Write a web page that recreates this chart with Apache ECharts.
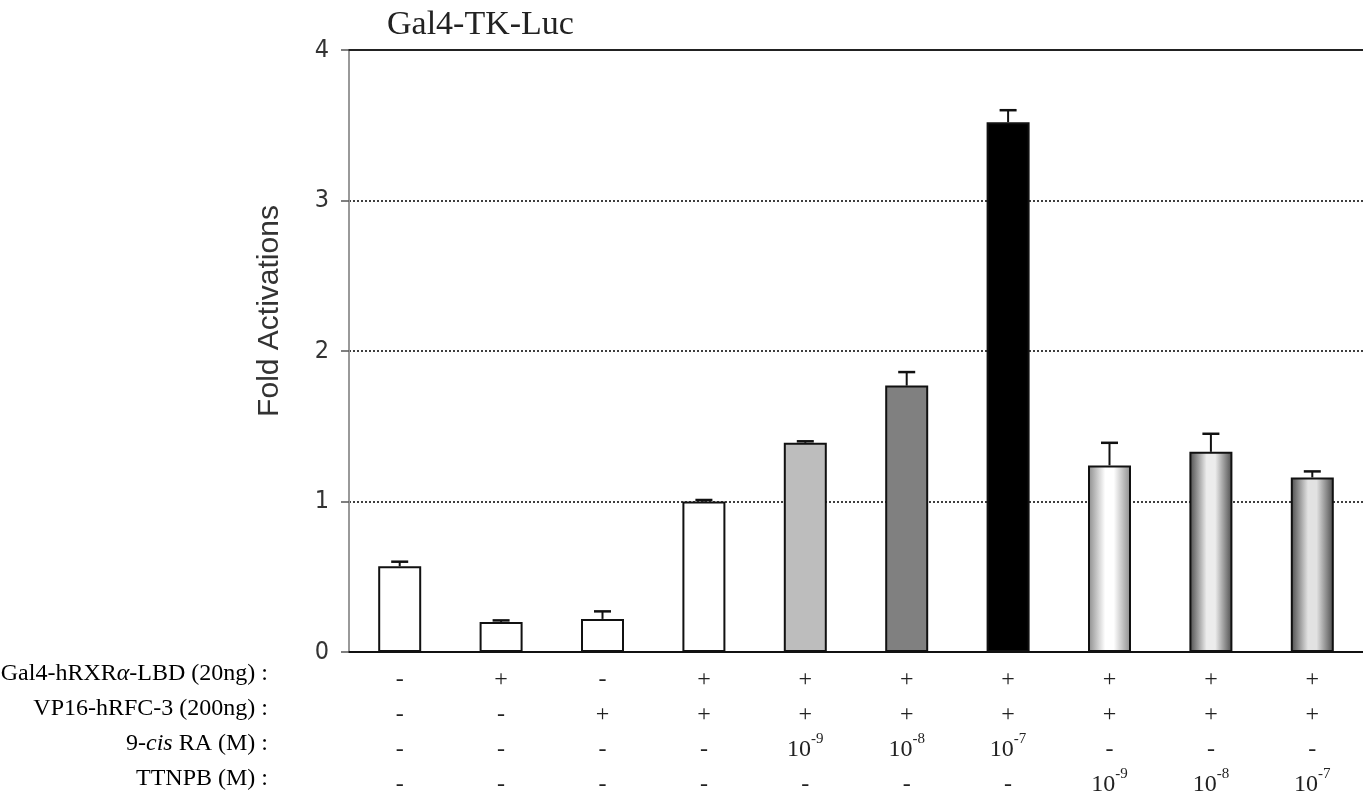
<!DOCTYPE html>
<html>
<head>
<meta charset="utf-8">
<script src="https://cdn.jsdelivr.net/npm/echarts@6/dist/echarts.min.js"></script>
<style>
html,body{margin:0;padding:0;background:#fff;}
#chart{width:1363px;height:810px;}
</style>
</head>
<body>
<div id="chart"></div>
<script>
// ---- data ----
const categories = ['1','2','3','4','5','6','7','8','9','10'];
const foldValues = [0.57, 0.20, 0.22, 1.00, 1.39, 1.77, 3.52, 1.24, 1.33, 1.16];
const errorUpper = [0.60, 0.21, 0.27, 1.01, 1.40, 1.86, 3.60, 1.39, 1.45, 1.20];
const yTicks = [0, 1, 2, 3, 4];
const rowLabels = ['Gal4-hRXRα-LBD (20ng) :', 'VP16-hRFC-3 (200ng) :', '9-cis RA (M) :', 'TTNPB (M) :'];
const rowGal4 = ['-', '+', '-', '+', '+', '+', '+', '+', '+', '+'];
const rowVP16 = ['-', '-', '+', '+', '+', '+', '+', '+', '+', '+'];
const rowCisRA = ['-', '-', '-', '-', '-9', '-8', '-7', '-', '-', '-'];
const rowTTNPB = ['-', '-', '-', '-', '-', '-', '-', '-9', '-8', '-7'];

// ---- styles ----
const serif = '"Liberation Serif", "Times New Roman", serif';
const sans = '"Liberation Sans", Arial, sans-serif';
const narrow = '"Liberation Sans Narrow", "Arial Narrow", "DejaVu Sans Condensed", sans-serif';
function grad(edge, mid) {
  return {type:'linear', x:0, y:0, x2:1, y2:0, colorStops:[
    {offset:0, color:edge},{offset:0.4, color:mid},{offset:0.6, color:mid},{offset:1, color:edge}]};
}
const barFills = ['#ffffff','#ffffff','#ffffff','#ffffff','#bdbdbd','#808080','#000000',
  grad('#8a8a8a','#ffffff'), grad('#4a4a4a','#ececec'), grad('#4a4a4a','#e2e2e2')];

function cell(v) {
  if (v === '-' ) return '{t|-}';
  if (v === '+') return '{t|+}';
  return '{t|10}{s|' + v + '}';
}

const chart = echarts.init(document.getElementById('chart'));
chart.setOption({
  animation: false,
  backgroundColor: '#fff',
  title: {
    text: 'Gal4-TK-Luc', left: 382, top: 3,
    textStyle: {fontFamily: serif, fontSize: 34, fontWeight: 'normal', color: '#222'}
  },
  grid: {left: 349, top: 50, width: 1022, height: 602},
  xAxis: [{
    type: 'category', data: categories, position: 'bottom',
    axisLine: {lineStyle: {color: '#111', width: 2}},
    axisTick: {show: false},
    axisLabel: {
      interval: 0, margin: 10,
      formatter: function (val, idx) {
        return [cell(rowGal4[idx]), cell(rowVP16[idx]), cell(rowCisRA[idx]), cell(rowTTNPB[idx])].join('\n');
      },
      rich: {
        t: {fontFamily: serif, fontSize: 24, color: '#222', lineHeight: 35},
        s: {fontFamily: serif, fontSize: 15, color: '#222', lineHeight: 20, verticalAlign: 'top'}
      }
    }
  }, {
    type: 'category', data: categories, position: 'top',
    axisLine: {lineStyle: {color: '#222', width: 2}},
    axisTick: {show: false}, axisLabel: {show: false}
  }],
  yAxis: {
    type: 'value', min: 0, max: 4, interval: 1,
    name: 'Fold Activations', nameLocation: 'middle', nameGap: 64, nameRotate: 90,
    nameTextStyle: {fontFamily: sans, fontSize: 30, color: '#333', padding: [0, 0, 0, 80]},
    axisLine: {show: true, lineStyle: {color: '#999', width: 2}},
    axisTick: {show: true, length: 8, lineStyle: {color: '#555', width: 1.5}},
    axisLabel: {fontFamily: narrow, fontSize: 25, color: '#333', margin: 20,
      formatter: function (v) { return yTicks.indexOf(v) >= 0 ? String(v) : ''; }},
    splitLine: {show: true, lineStyle: {color: '#000', type: [2, 2], width: 1.5}}
  },
  series: [{
    type: 'bar', barWidth: 43, z: 2,
    data: foldValues.map(function (v, i) {
      return {value: v, itemStyle: {color: barFills[i], borderColor: '#111', borderWidth: 2}};
    })
  }, {
    type: 'custom', z: 3,
    data: foldValues.map(function (v, i) { return [i, v, errorUpper[i]]; }),
    renderItem: function (params, api) {
      const p0 = api.coord([api.value(0), api.value(1)]);
      const p1 = api.coord([api.value(0), api.value(2)]);
      const hw = 8.5;
      return {type: 'group', children: [
        {type: 'line', shape: {x1: p0[0], y1: p0[1], x2: p1[0], y2: p1[1]}, style: {stroke: '#111', lineWidth: 2}},
        {type: 'line', shape: {x1: p1[0]-hw, y1: p1[1], x2: p1[0]+hw, y2: p1[1]}, style: {stroke: '#111', lineWidth: 2.5}}
      ]};
    }
  }],
  graphic: rowLabels.map(function (lbl, r) {
    let txt;
    if (r === 0) txt = '{n|Gal4-hRXR}{i|α}{n|-LBD (20ng) :}';
    else if (r === 2) txt = '{n|9-}{i|cis}{n| RA (M) :}';
    else txt = '{n|' + lbl + '}';
    return {
      type: 'text', right: 1363 - 268, top: 662 + r * 35,
      style: {text: txt, align: 'right',
        rich: {n: {fontFamily: serif, fontSize: 24, color: '#222', lineHeight: 35},
               i: {fontFamily: serif, fontSize: 24, fontStyle: 'italic', color: '#222', lineHeight: 35}}}
    };
  })
});
</script>
</body>
</html>
